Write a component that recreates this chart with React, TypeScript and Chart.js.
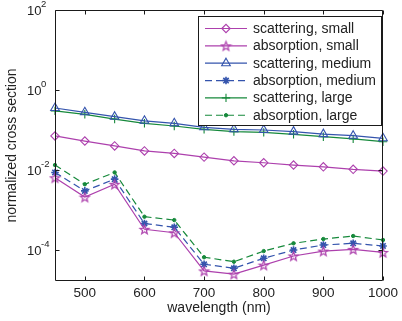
import React, { useEffect, useRef } from 'react';
import { Chart, registerables } from 'chart.js';
import { drawPoint } from 'chart.js/helpers';

Chart.register(...registerables);

const wavelengths = [450, 500, 550, 600, 650, 700, 750, 800, 850, 900, 950, 1000];
const scatteringSmall = [0.071, 0.053, 0.04, 0.03, 0.026, 0.021, 0.017, 0.0152, 0.0133, 0.012, 0.0104, 0.0094];
const absorptionSmall = [0.0064, 0.0021, 0.0044, 3.3e-4, 2.7e-4, 3.0e-5, 2.5e-5, 4.2e-5, 7.1e-5, 9.4e-5, 1.04e-4, 8.7e-5];
const scatteringMedium = [0.355, 0.277, 0.215, 0.17, 0.147, 0.117, 0.104, 0.1, 0.091, 0.079, 0.072, 0.062];
const absorptionMedium = [0.0087, 0.003, 0.0059, 4.6e-4, 3.7e-4, 4.4e-5, 3.5e-5, 6.2e-5, 1.0e-4, 1.33e-4, 1.47e-4, 1.26e-4];
const scatteringLarge = [0.3, 0.247, 0.188, 0.147, 0.126, 0.104, 0.091, 0.087, 0.078, 0.068, 0.06, 0.051];
const absorptionLarge = [0.0133, 0.0044, 0.0087, 6.8e-4, 5.6e-4, 6.6e-5, 5.1e-5, 9.4e-5, 1.47e-4, 1.88e-4, 2.24e-4, 1.78e-4];

const seriesLabels = [
  'scattering, small',
  'absorption, small',
  'scattering, medium',
  'absorption, medium',
  'scattering, large',
  'absorption, large',
];

const xTicks = [500, 600, 700, 800, 900, 1000];
const yTicks = [1e2, 1e0, 1e-2, 1e-4];
const yTickExponents = ['2', '0', '-2', '-4'];
const xTitle = 'wavelength (nm)';
const yTitle = 'normalized cross section';

const MAGENTA = '#ad40ad';
const BLUE = '#3454ad';
const GREEN = '#16893b';
const FONT = '"Liberation Sans", Arial, Helvetica, sans-serif';

function makePentagram(color: string, r: number): HTMLCanvasElement {
  const size = Math.ceil(r * 2 + 3);
  const c = document.createElement('canvas');
  c.width = size;
  c.height = size;
  const g = c.getContext('2d')!;
  g.strokeStyle = color;
  g.lineWidth = 1.2;
  const cx = size / 2;
  const cy = size / 2 + 0.5;
  g.beginPath();
  for (let i = 0; i < 10; i++) {
    const ang = -Math.PI / 2 + (i * Math.PI) / 5;
    const rr = i % 2 === 0 ? r : r * 0.42;
    const px = cx + rr * Math.cos(ang);
    const py = cy + rr * Math.sin(ang);
    if (i === 0) g.moveTo(px, py);
    else g.lineTo(px, py);
  }
  g.closePath();
  g.stroke();
  return c;
}

export default function App() {
  const ref = useRef<HTMLCanvasElement | null>(null);

  useEffect(() => {
    document.body.style.margin = '0';
    const canvas = ref.current!;
    const star = makePentagram(MAGENTA, 4.8);

    const styles = [
      { color: MAGENTA, pointStyle: 'rectRot', radius: 4.2, bw: 1.1, dash: [] as number[], fill: 'rgba(0,0,0,0)' },
      { color: MAGENTA, pointStyle: star as any, radius: 4.8, bw: 1.1, dash: [] as number[], fill: 'rgba(0,0,0,0)' },
      { color: BLUE, pointStyle: 'triangle', radius: 5, bw: 1.1, dash: [] as number[], fill: 'rgba(0,0,0,0)' },
      { color: BLUE, pointStyle: 'star', radius: 3.8, bw: 1.6, dash: [7, 4], fill: 'rgba(0,0,0,0)' },
      { color: GREEN, pointStyle: 'cross', radius: 4.2, bw: 1.1, dash: [] as number[], fill: 'rgba(0,0,0,0)' },
      { color: GREEN, pointStyle: 'circle', radius: 1.7, bw: 1, dash: [7, 4], fill: GREEN },
    ];
    const values = [scatteringSmall, absorptionSmall, scatteringMedium, absorptionMedium, scatteringLarge, absorptionLarge];

    const datasets = values.map((vals, i) => ({
      label: seriesLabels[i],
      data: wavelengths.map((w, j) => ({ x: w, y: vals[j] })),
      borderColor: styles[i].color,
      backgroundColor: styles[i].fill,
      pointBorderColor: styles[i].color,
      pointBackgroundColor: styles[i].fill,
      pointStyle: styles[i].pointStyle,
      pointRadius: styles[i].radius,
      pointBorderWidth: styles[i].bw,
      borderWidth: 1.2,
      borderDash: styles[i].dash,
      tension: 0,
      clip: false as any,
    }));

    const decor = {
      id: 'decor',
      afterDraw(chart: any) {
        const { ctx, chartArea } = chart;
        const { left, right, top, bottom } = chartArea;
        const xs = chart.scales.x;
        const ys = chart.scales.y;
        ctx.save();
        ctx.setLineDash([]);
        ctx.strokeStyle = '#1a1a1a';
        ctx.lineWidth = 1;
        const L = Math.round(left) + 0.5;
        const R = Math.round(right) - 0.5;
        const T = Math.round(top) + 0.5;
        const B = Math.round(bottom) - 0.5;
        ctx.beginPath();
        for (const v of xTicks) {
          const px = Math.round(xs.getPixelForValue(v)) + 0.5;
          ctx.moveTo(px, B);
          ctx.lineTo(px, B - 4);
          ctx.moveTo(px, T);
          ctx.lineTo(px, T + 4);
        }
        for (const v of yTicks) {
          const py = Math.round(ys.getPixelForValue(v)) + 0.5;
          ctx.moveTo(L, py);
          ctx.lineTo(L + 4, py);
          ctx.moveTo(R, py);
          ctx.lineTo(R - 4, py);
        }
        ctx.rect(L, T, R - L, B - T);
        ctx.stroke();

        // y tick labels (10 with superscript exponent)
        ctx.fillStyle = '#222';
        yTicks.forEach((v, i) => {
          const py = ys.getPixelForValue(v);
          ctx.font = `13px ${FONT}`;
          ctx.textAlign = 'left';
          ctx.textBaseline = 'middle';
          ctx.fillText('10', 27, py + 1);
          ctx.font = `9.5px ${FONT}`;
          ctx.textBaseline = 'alphabetic';
          ctx.fillText(yTickExponents[i], 41, py - 3);
        });

        // legend
        const lx0 = 198.5;
        const ly0 = 16.5;
        const lw = 183;
        const lh = 109;
        ctx.fillStyle = '#fff';
        ctx.fillRect(lx0, ly0, lw, lh);
        ctx.strokeStyle = '#1a1a1a';
        ctx.lineWidth = 1;
        ctx.strokeRect(lx0, ly0, lw, lh);
        const rowY0 = 28.5;
        const rowStep = 17.35;
        styles.forEach((s, i) => {
          const ry = rowY0 + i * rowStep;
          ctx.save();
          ctx.strokeStyle = s.color;
          ctx.lineWidth = 1.2;
          ctx.setLineDash(s.dash);
          ctx.beginPath();
          ctx.moveTo(205, ry);
          ctx.lineTo(247, ry);
          ctx.stroke();
          ctx.setLineDash([]);
          ctx.fillStyle = s.fill;
          ctx.lineWidth = s.bw;
          drawPoint(ctx, { pointStyle: s.pointStyle, radius: s.radius, rotation: 0, borderWidth: s.bw } as any, 226, ry);
          ctx.restore();
          ctx.fillStyle = '#222';
          ctx.font = `14px ${FONT}`;
          ctx.textAlign = 'left';
          ctx.textBaseline = 'middle';
          ctx.fillText(seriesLabels[i], 253, ry + 0.5);
        });
        ctx.restore();
      },
    };

    const chart = new Chart(canvas, {
      type: 'line',
      data: { datasets },
      options: {
        animation: false,
        responsive: true,
        maintainAspectRatio: false,
        layout: { padding: { left: 0, right: 16, top: 10, bottom: 0 } },
        plugins: { legend: { display: false }, tooltip: { enabled: false } },
        scales: {
          x: {
            type: 'linear',
            min: 450,
            max: 1000,
            afterBuildTicks: (scale: any) => {
              scale.ticks = xTicks.map((v) => ({ value: v }));
            },
            afterFit: (scale: any) => {
              scale.height = 40;
            },
            grid: { display: false, drawTicks: false },
            border: { display: false },
            ticks: {
              padding: 4,
              color: '#222',
              font: { family: FONT, size: 13.5 },
              maxRotation: 0,
              autoSkip: false,
              callback: (v: any) => String(v),
            },
            title: {
              display: true,
              text: xTitle,
              color: '#222',
              font: { family: FONT, size: 14, lineHeight: 1.2 },
              padding: { top: 0, bottom: 4 },
            },
          },
          y: {
            type: 'logarithmic',
            min: 1.68e-5,
            max: 100,
            afterFit: (scale: any) => {
              scale.width = 55;
            },
            grid: { display: false, drawTicks: false },
            border: { display: false },
            ticks: { display: false },
            title: {
              display: true,
              text: yTitle,
              color: '#222',
              font: { family: FONT, size: 14, lineHeight: 1.2 },
              padding: { top: 3.6, bottom: 0 },
            },
          },
        },
      },
      plugins: [decor],
    });

    return () => chart.destroy();
  }, []);

  return (
    <div style={{ position: 'absolute', left: 0, top: 0, width: 402, height: 321 }}>
      <canvas ref={ref} />
    </div>
  );
}
